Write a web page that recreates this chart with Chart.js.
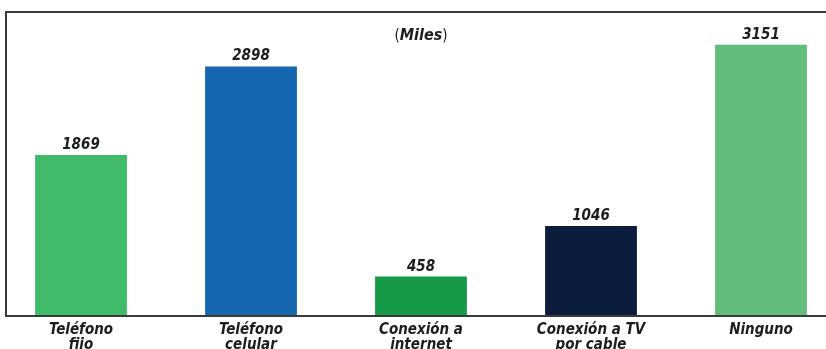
<!DOCTYPE html>
<html>
<head>
<meta charset="utf-8">
<script src="https://cdn.jsdelivr.net/npm/chart.js@4/dist/chart.umd.min.js"></script>
<style>
  html, body { margin: 0; padding: 0; background: #fff; overflow: hidden; }
  #wrap { position: relative; width: 850px; height: 370px; margin-left: -4px; }
</style>
</head>
<body>
<div id="wrap"><canvas id="grafico"></canvas></div>
<script>
// hogares por tipo de servicio (miles)
const categorias = [
    ['Teléfono', 'fijo'],
    ['Teléfono', 'celular'],
    ['Conexión a', 'internet'],
    ['Conexión a TV', 'por cable'],
    'Ninguno'
];
const valores = [1869, 2898, 458, 1046, 3151];
const colores = ['#40bb6a', '#1766b0', '#179a48', '#0c1c3c', '#63bd7a'];
const unidad = 'Miles';

const FUENTE = '"DejaVu Sans Condensed", "Liberation Sans Narrow", sans-serif';
const TINTA = '#1d1d1d';

// marco, etiquetas de valor y la unidad
const decoracion = {
    id: 'decoracion',
    afterDatasetsDraw(chart) {
        const { ctx, chartArea } = chart;
        const meta = chart.getDatasetMeta(0);

        ctx.save();
        ctx.fillStyle = TINTA;
        ctx.textAlign = 'center';
        ctx.textBaseline = 'alphabetic';
        ctx.font = `italic bold 15px ${FUENTE}`;
        meta.data.forEach((bar, i) => {
            ctx.fillText(String(valores[i]), bar.x, bar.y - 6);
        });

        // (Miles): paréntesis normales, palabra en negrita cursiva
        const cx = meta.data[2].x;
        const y = 40;
        ctx.font = `normal 15px ${FUENTE}`;
        const wp = ctx.measureText('(').width;
        const wc = ctx.measureText(')').width;
        ctx.font = `italic bold 16px ${FUENTE}`;
        const wm = ctx.measureText(unidad).width;
        let x = cx - (wp + wm + wc) / 2;
        ctx.textAlign = 'left';
        ctx.font = `normal 15px ${FUENTE}`;
        ctx.fillText('(', x, y);
        ctx.font = `italic bold 16px ${FUENTE}`;
        ctx.fillText(unidad, x + wp, y);
        ctx.font = `normal 15px ${FUENTE}`;
        ctx.fillText(')', x + wp + wm, y);

        // marco
        ctx.strokeStyle = '#3a3a3a';
        ctx.lineWidth = 2;
        ctx.beginPath();
        ctx.moveTo(chart.width, chartArea.top);
        ctx.lineTo(10, chartArea.top);
        ctx.lineTo(10, chartArea.bottom);
        ctx.lineTo(chart.width, chartArea.bottom);
        ctx.stroke();
        ctx.restore();
    }
};

new Chart(document.getElementById('grafico'), {
    type: 'bar',
    data: {
        labels: categorias,
        datasets: [{
            data: valores,
            backgroundColor: colores,
            borderWidth: 0,
            categoryPercentage: 1,
            barPercentage: 0.54
        }]
    },
    options: {
        responsive: true,
        maintainAspectRatio: false,
        animation: false,
        layout: { padding: { top: 12, left: 0, right: 0, bottom: 0 } },
        plugins: {
            legend: { display: false },
            tooltip: { enabled: false }
        },
        scales: {
            x: {
                grid: { display: false },
                border: { display: false },
                ticks: {
                    color: TINTA,
                    padding: -1,
                    maxRotation: 0,
                    autoSkip: false,
                    font: { family: FUENTE, size: 15, style: 'italic', weight: 'bold', lineHeight: 1.0 }
                },
                afterFit(scale) { scale.height = 370 - 316; }
            },
            y: {
                display: false,
                min: 0,
                max: 3530
            }
        }
    },
    plugins: [decoracion]
});
</script>
</body>
</html>
